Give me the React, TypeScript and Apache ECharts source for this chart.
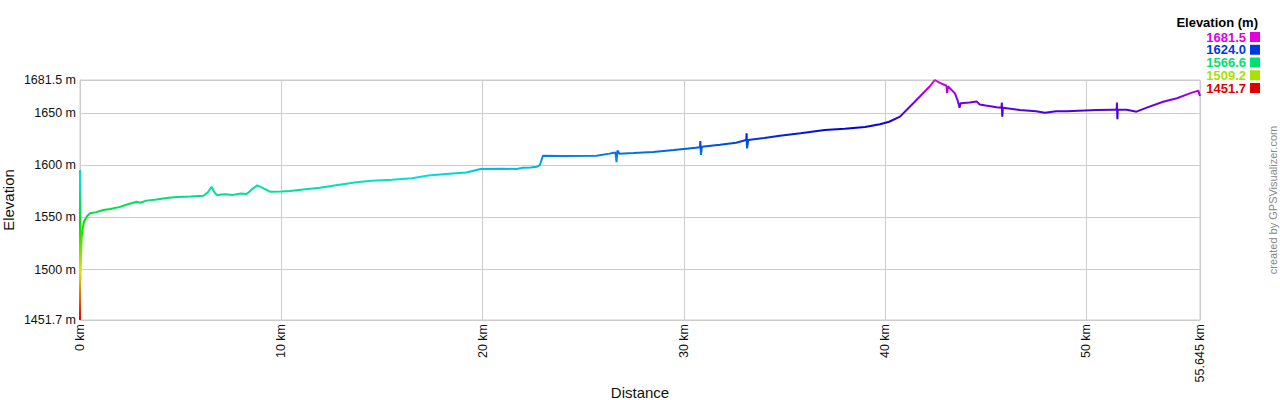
import React, { useEffect, useRef } from "react";
import * as echarts from "echarts";

// distance (km), elevation (m)
const distanceKm: number[] = [0,0,0.02,0.04,0.08,0.12,0.2,0.35,0.5,0.8,1.16,1.5,1.99,2.3,2.81,3.0,3.3,3.81,4.3,4.8,5.5,6.13,6.35,6.54,6.68,6.79,7.2,7.6,8.0,8.28,8.55,8.81,9.1,9.44,10.0,10.43,11.2,11.92,12.8,13.74,14.5,15.5,16.5,17.3,18.2,19.2,19.9,21.0,21.7,22.0,22.4,22.7,22.85,23.0,24.0,25.67,26.3,26.6,26.66,26.7,26.8,27.5,28.48,29.5,30.5,30.8,30.82,30.85,30.9,31.8,32.6,33.1,33.12,33.14,33.2,34.0,34.77,35.8,37.0,38.0,39.0,39.74,40.2,40.74,41.4,42.2,42.47,42.7,43.05,43.08,43.12,43.47,43.62,43.7,43.75,44.2,44.55,44.7,45.0,45.54,45.78,45.8,45.82,45.85,46.7,47.5,47.94,48.5,49.02,50.5,51.33,51.5,51.52,51.54,51.56,52.0,52.49,53.0,53.81,54.5,55.14,55.56,55.645];
const elevationM: number[] = [1451.7,1595,1490,1505,1530,1538,1546,1551,1554,1555,1557,1558,1560,1562,1565,1564,1566,1567,1568.5,1569.5,1570,1570.7,1574,1579.3,1574,1571.4,1572,1571.5,1572.8,1572.4,1577,1580.6,1578,1574.6,1574.8,1575.2,1577,1578.4,1581,1583.5,1585,1586,1587.5,1590,1591.5,1593,1596.3,1596.5,1596.3,1597.5,1597.8,1598.5,1600.1,1609,1608.7,1609,1611,1612,1602.7,1614,1611,1611.5,1612.6,1614.5,1616.5,1617,1623,1609.7,1617.5,1619.5,1621.5,1624,1630.5,1616,1624,1626,1628.2,1630.5,1633.6,1634.8,1636.5,1639.1,1641.5,1646.4,1659.2,1675,1681.5,1679,1676,1669,1675.5,1668.7,1661,1655,1659.2,1660,1661,1658,1657,1655.4,1655,1660,1646.4,1655,1652.8,1651.5,1650.2,1651.5,1651.5,1652.8,1653.1,1653,1660,1643.9,1653,1653,1651.2,1655,1660.7,1664,1668.7,1671.3,1666.2];

const elevMin = 1451.7;
const elevMax = 1681.5;
const distMax = 55.645;
const legendStops: number[] = [1681.5, 1624.0, 1566.6, 1509.2, 1451.7];

const hueColor = (v: number) => {
  const h = ((v - elevMin) / (elevMax - elevMin)) * 300;
  return `hsl(${h.toFixed(1)}, 100%, 44%)`;
};
const rampColors: string[] = [];
for (let i = 0; i <= 20; i++) rampColors.push(`hsl(${i * 15}, 100%, 44%)`);

export default function App() {
  const ref = useRef<HTMLDivElement>(null);
  useEffect(() => {
    if (!ref.current) return;
    const chart = echarts.init(ref.current, undefined, { renderer: "svg" });
    const data = distanceKm.map((d, i) => [d, elevationM[i]]);
    const font = "Arial, 'Liberation Sans', sans-serif";
    const legendGraphics: any[] = [
      {
        type: "text",
        x: 1258,
        y: 22,
        style: { text: "Elevation (m)", font: `bold 13px ${font}`, fill: "#000", align: "right", verticalAlign: "middle" },
      },
    ];
    legendStops.forEach((v, i) => {
      const y = 37 + i * 12.75;
      legendGraphics.push({
        type: "text",
        x: 1246,
        y,
        style: {
          text: v.toFixed(1),
          font: `bold 13px ${font}`,
          fill: hueColor(v),
          align: "right",
          verticalAlign: "middle",
        },
      });
      legendGraphics.push({
        type: "rect",
        shape: { x: 1250, y: y - 5, width: 10, height: 10 },
        style: { fill: hueColor(v) },
      });
    });
    legendGraphics.push({
      type: "text",
      x: 1273,
      y: 200,
      rotation: Math.PI / 2,
      style: {
        text: "created by GPSVisualizer.com",
        font: `11px ${font}`,
        fill: "#888",
        align: "center",
        verticalAlign: "middle",
      },
    });
    chart.setOption({
      animation: false,
      textStyle: { fontFamily: font },
      grid: {
        left: 80,
        right: 80,
        top: 80,
        bottom: 80,
        containLabel: false,
        outerBoundsMode: "none",
        show: true,
        borderColor: "#ccc",
        borderWidth: 1,
      },
      xAxis: {
        type: "value",
        min: 0,
        max: distMax,
        splitNumber: 6,
        name: "Distance",
        nameLocation: "middle",
        nameGap: 65,
        nameMoveOverlap: false,
        nameTextStyle: { fontSize: 15, color: "#111" },
        axisLine: { show: true, lineStyle: { color: "#ccc" } },
        axisTick: { show: false },
        splitLine: { show: true, lineStyle: { color: "#ccc" } },
        axisLabel: {
          rotate: 90,
          margin: 4,
          fontSize: 12.5,
          color: "#111",
          showMinLabel: true,
          showMaxLabel: true,
          formatter: (v: number) => `${v} km`,
        },
      },
      yAxis: {
        type: "value",
        min: elevMin,
        max: elevMax,
        splitNumber: 5,
        name: "Elevation",
        nameLocation: "middle",
        nameGap: 64,
        nameMoveOverlap: false,
        nameTextStyle: { fontSize: 15, color: "#111" },
        axisLine: { show: true, lineStyle: { color: "#ccc" } },
        axisTick: { show: false },
        splitLine: { show: true, lineStyle: { color: "#ccc" } },
        axisLabel: {
          margin: 4,
          fontSize: 12.5,
          color: "#111",
          showMinLabel: true,
          showMaxLabel: true,
          formatter: (v: number) => `${v} m`,
        },
      },
      visualMap: {
        show: false,
        type: "continuous",
        dimension: 1,
        min: elevMin,
        max: elevMax,
        inRange: { color: rampColors },
      },
      series: [
        {
          type: "line",
          data,
          showSymbol: false,
          symbol: "none",
          lineStyle: { width: 2 },
        },
      ],
      graphic: legendGraphics,
    });
    return () => chart.dispose();
  }, []);
  return (
    <div
      ref={ref}
      style={{ position: "fixed", left: 0, top: 0, width: 1280, height: 400, background: "#fff" }}
    />
  );
}
